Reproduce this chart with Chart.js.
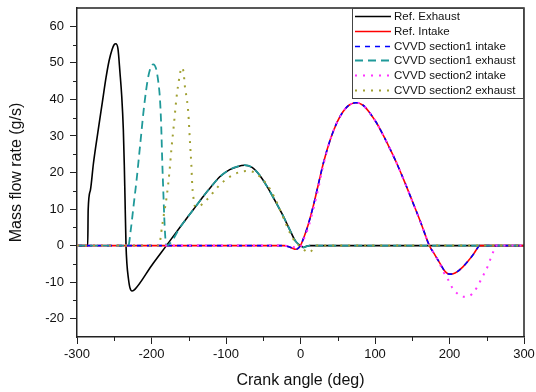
<!DOCTYPE html>
<html>
<head>
<meta charset="utf-8">
<script src="https://cdn.jsdelivr.net/npm/chart.js@4.4.1/dist/chart.umd.min.js"></script>
<style>
  html, body { margin: 0; padding: 0; background: #fff; }
  #wrap { width: 536px; height: 392px; }
</style>
</head>
<body>
<div id="wrap"><canvas id="flowChart" width="536" height="392"></canvas></div>
<script>
// valores (grados de ciguenal, g/s)
const xTicks = [-300, -200, -100, 0, 100, 200, 300];
const xMinorTicks = [-250, -150, -50, 50, 150, 250];
const yTicks = [-20, -10, 0, 10, 20, 30, 40, 50, 60];
const yMinorTicks = [-15, -5, 5, 15, 25, 35, 45, 55];

const seriesLabels = ['Ref. Exhaust', 'Ref. Intake', 'CVVD section1 intake',
  'CVVD section1 exhaust', 'CVVD section2 intake', 'CVVD section2 exhaust'];

const refExhaustX = [-300, -285.6, -285, -282, -278, -272, -266, -261, -257, -253, -250, -248, -245, -242.3, -240, -237.8, -236.5, -235.6, -234.2, -233, -231, -229, -226, -222, -200, -180, -160, -144, -130, -120, -108, -95, -85, -75, -65, -55, -45, -35, -25, -15, -7, 0, 4, 8, 12, 300];
const refExhaustY = [0, 0, 9.8, 15.2, 22.4, 31, 39.2, 46, 50.5, 53.6, 55, 55.2, 53.8, 47.3, 41, 31.7, 22, 13.4, 0, -5, -9, -11.5, -12.4, -11.9, -5.5, 0, 5.5, 9.8, 13.6, 16.1, 18.9, 20.8, 21.6, 22, 21.4, 19.3, 16.2, 12.6, 8.8, 4.6, 1.3, 0, -0.5, -0.2, 0, 0];

const intakeX = [-300, -22, -15, -10, -7, -4, -2, 0, 5, 10, 17, 24, 31, 40, 49, 57, 65, 74.5, 84, 93, 102, 111, 120, 129, 140, 151, 162, 173, 180, 187, 193, 200, 205, 210, 218, 225, 232, 238.7, 240, 300];
const refIntakeY = [0, 0, -0.4, -0.8, -1, -0.9, -0.5, 0, 2.5, 5.5, 10.7, 16.8, 22.8, 29, 33.7, 36.6, 38.4, 39.1, 38.4, 36.3, 33.6, 30.2, 26.5, 22.6, 17.3, 11.7, 6, 0, -2.4, -4.8, -6.8, -7.8, -7.7, -7.2, -5.8, -4.2, -2.4, -0.3, 0, 0];
const s1IntakeY = [0, 0, -0.4, -0.8, -1, -0.9, -0.5, 0, 2.5, 5.5, 10.7, 16.8, 22.8, 29, 33.7, 36.6, 38.4, 39.1, 38.4, 36.3, 33.6, 30.2, 26.5, 22.6, 17.3, 11.7, 6, 0, -2.4, -4.8, -6.8, -7.8, -7.7, -7.2, -5.8, -4.2, -2.4, -0.3, 0, 0];

const s1ExhaustX = [-300, -231, -228, -224, -220, -215, -210, -205, -201, -197.6, -194, -191, -188.6, -187, -185.5, -184, -182.5, -181, -180, -160, -144, -130, -120, -108, -95, -85, -75, -65, -55, -45, -35, -25, -15, -7, 0, 4, 8, 12, 300];
const s1ExhaustY = [0, 0, 4, 11, 18, 28, 38, 45.5, 48.8, 49.6, 48.5, 45, 40, 33, 22.6, 14, 6, 1, 0, 5.5, 9.8, 13.6, 16.1, 18.9, 20.8, 21.6, 22, 21.4, 19.3, 16.2, 12.6, 8.8, 4.6, 1.3, 0, -0.5, -0.2, 0, 0];

const s2IntakeX = [-300, -22, -15, -10, -5, 0, 4, 10.5, 17, 24, 30, 40, 49, 57, 65, 74.5, 84, 93, 102, 111, 120, 129, 140, 151, 162, 173, 180, 186, 191.7, 198.4, 204.3, 210.5, 218.5, 226.6, 232.9, 238.7, 243.2, 248.6, 253, 255.7, 259.7, 262, 300];
const s2IntakeY = [0, 0, -0.2, -0.4, -0.5, -0.3, 1.5, 5, 9.8, 15.7, 21.5, 29, 33.7, 36.6, 38.4, 39.1, 38.4, 36.3, 33.6, 30.2, 26.5, 22.6, 17.3, 11.7, 6, 0, -2.4, -4.6, -7.1, -9.4, -11.7, -13.1, -14, -13.8, -12.6, -10.8, -8.9, -6.9, -4.8, -3.2, -1.2, 0, 0];

const s2ExhaustX = [-300, -190, -186, -183, -179.6, -176, -172.9, -170, -166.2, -163, -161, -159.5, -157, -155, -152.5, -150.6, -148.3, -146.5, -145.2, -143.5, -141.6, -139, -126, -108, -90, -72, -62, -45, -35, -27.5, -20, -14, -7, 0, 5, 10.5, 17, 21, 300];
const s2ExhaustY = [0, 0, 5, 9, 13.4, 20, 27.2, 33, 40.9, 45.5, 47.8, 48.7, 47.5, 43.2, 40, 36.3, 28.1, 22, 16.2, 12.8, 10.7, 10.6, 12.5, 16.7, 19.4, 20.4, 20, 16.7, 13.2, 9.8, 6.2, 3.4, 1, -0.3, -1.2, -1.9, -1, 0, 0];

const axisColor = '#222';

function pts(xs, ys) {
  return xs.map((x, i) => ({ x: x, y: ys[i] }));
}

// marco superior/derecho y ticks menores
const framePlugin = {
  id: 'frame',
  afterDraw(chart) {
    const { ctx, chartArea: a, scales } = chart;
    ctx.save();
    ctx.strokeStyle = axisColor;
    ctx.lineWidth = 1.5;
    ctx.beginPath();
    ctx.moveTo(a.left, a.top);
    ctx.lineTo(a.right, a.top);
    ctx.lineTo(a.right, a.bottom);
    ctx.stroke();
    ctx.lineWidth = 1;
    ctx.beginPath();
    xMinorTicks.forEach(v => {
      const px = Math.round(scales.x.getPixelForValue(v)) + 0.5;
      ctx.moveTo(px, a.bottom);
      ctx.lineTo(px, a.bottom + 4);
    });
    yMinorTicks.forEach(v => {
      const py = Math.round(scales.y.getPixelForValue(v)) + 0.5;
      ctx.moveTo(a.left, py);
      ctx.lineTo(a.left - 4, py);
    });
    ctx.stroke();
    ctx.restore();
  }
};

// leyenda con recuadro, arriba a la derecha
const legendBox = {
  id: 'legendBox',
  afterDraw(chart) {
    const { ctx, chartArea: a } = chart;
    const ds = chart.data.datasets;
    const left = 352, top = a.top, right = a.right, rowH = 14.8;
    const bottom = top + 8 + (ds.length - 1) * rowH + 8;
    ctx.save();
    ctx.fillStyle = '#fff';
    ctx.fillRect(left, top, right - left, bottom - top);
    ctx.strokeStyle = '#444';
    ctx.lineWidth = 1;
    ctx.strokeRect(left + 0.5, top + 0.5, right - left - 1, bottom - top);
    ds.forEach((d, i) => {
      const cy = Math.round(top + 8 + i * rowH) + 0.5;
      ctx.strokeStyle = d.borderColor;
      ctx.lineWidth = d.borderWidth;
      ctx.setLineDash(d.borderDash || []);
      ctx.beginPath();
      ctx.moveTo(left + 3, cy);
      ctx.lineTo(left + 39, cy);
      ctx.stroke();
      ctx.setLineDash([]);
      ctx.fillStyle = '#111';
      ctx.font = '11.5px "Liberation Sans", Arial, sans-serif';
      ctx.textBaseline = 'middle';
      ctx.fillText(d.label, left + 42, cy);
    });
    ctx.restore();
  }
};

Chart.defaults.font.family = '"Liberation Sans", Arial, sans-serif';
Chart.defaults.color = '#111';

const ctx = document.getElementById('flowChart').getContext('2d');
const flowChart = new Chart(ctx, {
  type: 'line',
  data: {
    datasets: [
      { label: seriesLabels[0], data: pts(refExhaustX, refExhaustY), borderColor: '#000000', borderWidth: 1.6, order: 6 },
      { label: seriesLabels[1], data: pts(intakeX, refIntakeY), borderColor: '#ff0000', borderWidth: 1.6, order: 5 },
      { label: seriesLabels[2], data: pts(intakeX, s1IntakeY), borderColor: '#0000ff', borderWidth: 1.6, borderDash: [5, 5], order: 4 },
      { label: seriesLabels[3], data: pts(s1ExhaustX, s1ExhaustY), borderColor: '#1f9999', borderWidth: 1.8, borderDash: [8, 5], order: 3 },
      { label: seriesLabels[4], data: pts(s2IntakeX, s2IntakeY), borderColor: '#ff33ff', borderWidth: 2, borderDash: [2, 6], order: 2 },
      { label: seriesLabels[5], data: pts(s2ExhaustX, s2ExhaustY), borderColor: '#a0a032', borderWidth: 2, borderDash: [2, 6], order: 1 }
    ]
  },
  options: {
    responsive: false,
    animation: false,
    devicePixelRatio: 1,
    layout: { padding: { top: 8, right: 12, left: 0, bottom: 0 } },
    elements: {
      point: { radius: 0 },
      line: { cubicInterpolationMode: 'monotone', fill: false }
    },
    plugins: {
      legend: { display: false },
      tooltip: { enabled: false }
    },
    scales: {
      x: {
        type: 'linear',
        min: -300,
        max: 300,
        afterBuildTicks: s => { s.ticks = xTicks.map(v => ({ value: v })); },
        afterFit: s => { s.height = 55; s.paddingLeft = 0; s.paddingRight = 0; },
        ticks: { font: { size: 13 }, color: '#111', padding: 3, maxRotation: 0, autoSkip: false },
        grid: { drawOnChartArea: false, drawTicks: true, tickLength: 7, tickColor: axisColor, tickWidth: 1 },
        border: { display: true, color: axisColor, width: 1.5 },
        title: { display: true, text: 'Crank angle (deg)', font: { size: 16 }, color: '#111', padding: { top: 0, bottom: 2 } }
      },
      y: {
        type: 'linear',
        min: -25,
        max: 65,
        afterBuildTicks: s => { s.ticks = yTicks.map(v => ({ value: v })); },
        afterFit: s => { s.width = 77; s.paddingTop = 0; s.paddingBottom = 0; },
        ticks: { font: { size: 13 }, color: '#111', padding: 6 },
        grid: { drawOnChartArea: false, drawTicks: true, tickLength: 7, tickColor: axisColor, tickWidth: 1 },
        border: { display: true, color: axisColor, width: 1.5 },
        title: { display: true, text: 'Mass flow rate (g/s)', font: { size: 16 }, color: '#111', padding: { top: 7, bottom: 0 } }
      }
    }
  },
  plugins: [framePlugin, legendBox]
});
</script>
</body>
</html>
